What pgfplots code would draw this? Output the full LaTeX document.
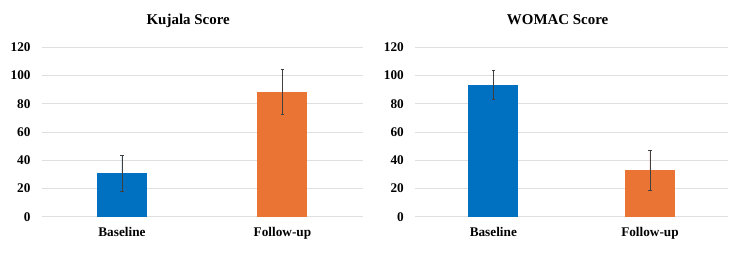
\documentclass[border=0pt]{standalone}
\usepackage{fontspec}
\setmainfont{Liberation Serif}
\usepackage{pgfplots}
\pgfplotsset{compat=1.18}
\definecolor{cblue}{HTML}{0070C0}
\definecolor{corange}{HTML}{EA7434}
\pgfplotsset{
  myaxis/.style={
    scale only axis,
    height=169.4bp,
    ymin=0, ymax=120,
    xmin=0, xmax=2,
    ytick={0,20,...,120},
    xtick={0.5,1.5},
    xticklabels={Baseline,Follow-up},
    ymajorgrids,
    grid style={draw=gray!25, line width=0.6pt},
    axis line style={draw=none},
    major tick length=0pt,
    /pgf/number format/assume math mode=true,
    tick label style={font=\fontsize{13.3}{15}\selectfont\bfseries},
    yticklabel style={anchor=east, inner sep=0pt, xshift=-11bp},
    xticklabel style={anchor=base, inner sep=0pt, yshift=-20bp},
    title style={at={(0.5,1)}, anchor=base, yshift=16.6bp, xshift=-14bp, font=\fontsize{15}{17}\selectfont\bfseries},
    ybar, bar width=50bp, bar shift=0pt,
    clip=false,
  },
  myerr/.style={
    error bars/.cd, y dir=both, y explicit,
    error bar style={draw=black!75, line width=0.75pt},
    error mark options={rotate=90, mark size=1.8bp, draw=black!75, line width=0.75pt},
  },
}
\begin{document}
\begin{tikzpicture}
\useasboundingbox (0,0) rectangle (750bp,257bp);
\begin{axis}[myaxis, at={(41.7bp,40.3bp)}, anchor=south west, width=321bp, title={Kujala Score}]
\addplot[fill=cblue, draw=none, myerr] coordinates {(0.5,30.8) +- (0,12.6)};
\addplot[fill=corange, draw=none, myerr] coordinates {(1.5,88.4) +- (0,16.1)};
\end{axis}
\begin{axis}[myaxis, at={(415bp,40.3bp)}, anchor=south west, width=313.3bp, title={WOMAC Score}]
\addplot[fill=cblue, draw=none, myerr] coordinates {(0.5,93.3) +- (0,10.4)};
\addplot[fill=corange, draw=none, myerr] coordinates {(1.5,32.9) +- (0,13.9)};
\end{axis}
\end{tikzpicture}
\end{document}
